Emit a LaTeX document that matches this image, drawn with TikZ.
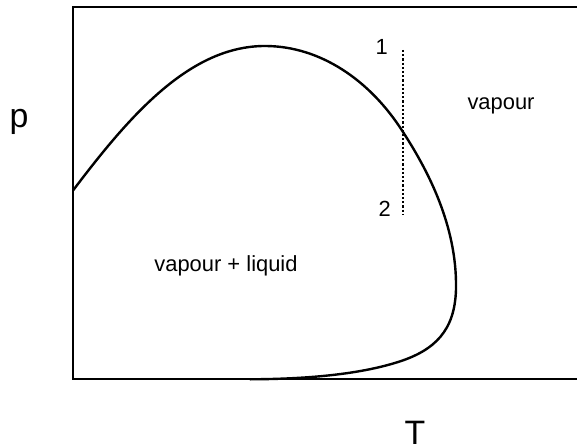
\documentclass[tikz,border=0pt]{standalone}
\usepackage{fontspec}
\setmainfont{Liberation Sans}
\begin{document}
\begin{tikzpicture}[x=1bp,y=-1bp,
  lbl/.style={inner sep=0pt, anchor=base, font=\fontsize{22}{26}\selectfont},
  numlbl/.style={inner sep=0pt, anchor=base, font=\fontsize{22}{26}\selectfont},
  axlbl/.style={inner sep=0pt, anchor=base, font=\fontsize{34}{40}\selectfont},
  frameline/.style={line width=1.8bp},
  curveline/.style={line width=2.4bp, line join=round, line cap=round},
  isotherm/.style={line width=2.4bp, dash pattern=on 2.2bp off 2bp}]
\useasboundingbox (0,0) rectangle (577,447);
% frame
\draw[frameline] (578,7) -- (73,7) -- (73,379) -- (578,379);
% phase envelope
\coordinate (c0) at (73,190.5);
\coordinate (c1) at (265,46);
\coordinate (c2) at (403,132);
\coordinate (c3) at (456,282);
\coordinate (c4) at (404,360);
\coordinate (c5) at (250,379.3);
\draw[curveline] (c0) .. controls (130,115) and (190,46) .. (c1)
  .. controls (320,46) and (370,80) .. (c2)
  .. controls (425,166) and (455,220) .. (c3)
  .. controls (457,325) and (440,347) .. (c4)
  .. controls (370,372) and (320,379) .. (c5);
% isotherm
\coordinate (d1) at (403,50);
\coordinate (d2) at (403,215);
\draw[isotherm] (d1) -- (d2);
% labels
\node[numlbl, anchor=base east] (one) at (388,55) {1};
\node[numlbl, anchor=base east] (two) at (391,217) {2};
\node[lbl] (vap) at (501,110) {vapour};
\node[lbl] (vl) at (226,272) {vapour + liquid};
\node[axlbl] (p) at (19,128) {p};
\node[axlbl] (T) at (415,444.5) {T};
\end{tikzpicture}
\end{document}
